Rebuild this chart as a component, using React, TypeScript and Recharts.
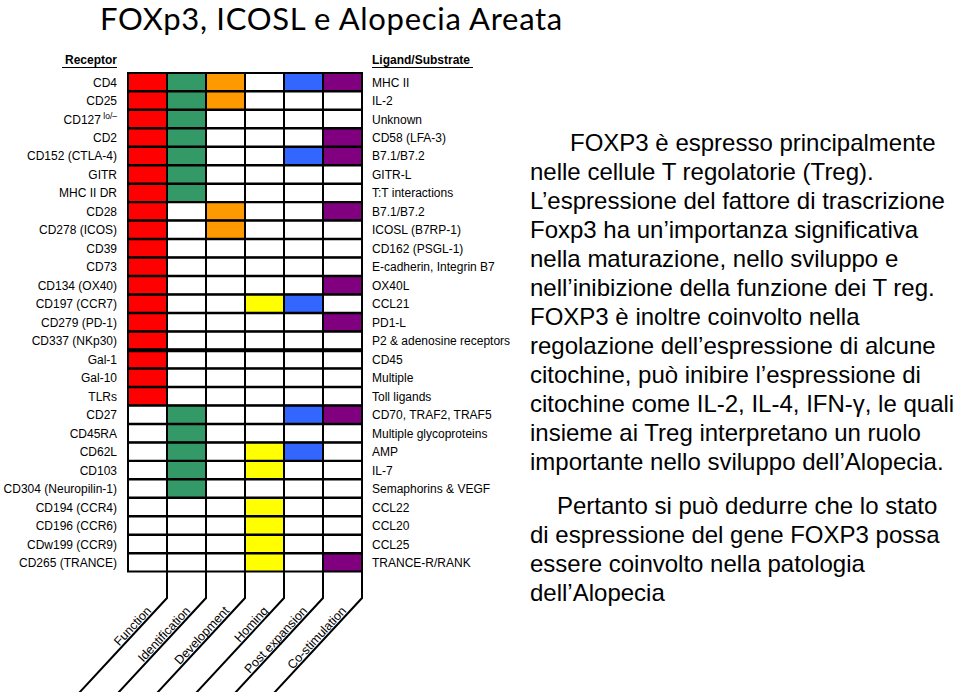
import { Bar, BarChart, Cell, ReferenceLine, XAxis, YAxis } from "recharts";

const receptors = [
  "CD4", "CD25", "CD127^lo/–", "CD2", "CD152 (CTLA-4)", "GITR", "MHC II DR", "CD28", "CD278 (ICOS)",
  "CD39", "CD73", "CD134 (OX40)", "CD197 (CCR7)", "CD279 (PD-1)", "CD337 (NKp30)", "Gal-1", "Gal-10",
  "TLRs", "CD27", "CD45RA", "CD62L", "CD103", "CD304 (Neuropilin-1)", "CD194 (CCR4)", "CD196 (CCR6)",
  "CDw199 (CCR9)", "CD265 (TRANCE)",
];

const ligands = [
  "MHC II", "IL-2", "Unknown", "CD58 (LFA-3)", "B7.1/B7.2", "GITR-L", "T:T interactions", "B7.1/B7.2",
  "ICOSL (B7RP-1)", "CD162 (PSGL-1)", "E-cadherin, Integrin B7", "OX40L", "CCL21", "PD1-L",
  "P2 & adenosine receptors", "CD45", "Multiple", "Toll ligands", "CD70, TRAF2, TRAF5",
  "Multiple glycoproteins", "AMP", "IL-7", "Semaphorins & VEGF", "CCL22", "CCL20", "CCL25", "TRANCE-R/RANK",
];

const categories = ["Function", "Identification", "Development", "Homing", "Post expansion", "Co-stimulation"];
const categoryColors = ["#ff0000", "#339966", "#ff9900", "#ffff00", "#3366ff", "#800080"];

// 1 = receptor belongs to the category (one entry per receptor row)
const functionMarks = [1, 1, 1, 1, 1, 1, 1, 1, 1, 1, 1, 1, 1, 1, 1, 1, 1, 1, 0, 0, 0, 0, 0, 0, 0, 0, 0];
const identificationMarks = [1, 1, 1, 1, 1, 1, 1, 0, 0, 0, 0, 0, 0, 0, 0, 0, 0, 0, 1, 1, 1, 1, 1, 0, 0, 0, 0];
const developmentMarks = [1, 1, 0, 0, 0, 0, 0, 1, 1, 0, 0, 0, 0, 0, 0, 0, 0, 0, 0, 0, 0, 0, 0, 0, 0, 0, 0];
const homingMarks = [0, 0, 0, 0, 0, 0, 0, 0, 0, 0, 0, 0, 1, 0, 0, 0, 0, 0, 0, 0, 1, 1, 0, 1, 1, 1, 1];
const postExpansionMarks = [1, 0, 0, 0, 1, 0, 0, 0, 0, 0, 0, 0, 1, 0, 0, 0, 0, 0, 1, 0, 1, 0, 0, 0, 0, 0, 0];
const coStimulationMarks = [1, 0, 0, 1, 1, 0, 0, 1, 0, 0, 0, 1, 0, 1, 0, 0, 0, 0, 1, 0, 0, 0, 0, 0, 0, 0, 1];

const marks = [functionMarks, identificationMarks, developmentMarks, homingMarks, postExpansionMarks, coStimulationMarks];

const paragraph1 = [
  "FOXP3 è espresso principalmente",
  "nelle cellule T regolatorie (Treg).",
  "L’espressione del fattore di trascrizione",
  "Foxp3 ha un’importanza significativa",
  "nella maturazione, nello sviluppo e",
  "nell’inibizione della funzione dei T reg.",
  "FOXP3 è inoltre coinvolto nella",
  "regolazione dell’espressione di alcune",
  "citochine, può inibire l’espressione di",
  "citochine come IL-2, IL-4, IFN-γ, le quali",
  "insieme ai Treg interpretano un ruolo",
  "importante nello sviluppo dell’Alopecia.",
];
const paragraph2 = [
  "Pertanto si può dedurre che lo stato",
  "di espressione del gene FOXP3 possa",
  "essere coinvolto nella patologia",
  "dell’Alopecia",
];

const data = receptors.map((receptor, i) => ({
  receptor,
  ligand: ligands[i],
  c0: 1, c1: 1, c2: 1, c3: 1, c4: 1, c5: 1,
}));

const SANS = "'Liberation Sans', Arial, sans-serif";

function ReceptorTick(props: any) {
  const { x, y, payload } = props;
  const [main, sup] = String(payload.value).split("^");
  return (
    <text x={x} y={y} dy="0.36em" textAnchor="end" fontSize={12} fontFamily={SANS} fill="#000">
      {main}
      {sup && (
        <tspan dy={-5} fontSize={8.5}>
          {" " + sup}
        </tspan>
      )}
    </text>
  );
}

function LigandTick(props: any) {
  const { x, y, payload } = props;
  return (
    <text x={x} y={y} dy="0.36em" textAnchor="start" fontSize={12} fontFamily={SANS} fill="#000">
      {payload.value}
    </text>
  );
}

function CategoryTick(props: any) {
  const { x, y, payload } = props;
  const label = categories[payload.value - 1];
  const drop = 26;
  const dx = -0.68;
  const dy = 0.734;
  const cy = y + drop;
  const s = 20;
  const ex = x + dx * s - 0.734 * 2;
  const ey = cy + dy * s - 0.68 * 2;
  return (
    <g>
      <path d={`M${x},${y}L${x},${cy}L${x + dx * 150},${cy + dy * 150}`} stroke="#000" strokeWidth={2} fill="none" />
      <text
        x={ex}
        y={ey}
        textAnchor="end"
        fontSize={12.5}
        fontFamily={SANS}
        fill="#000"
        transform={`rotate(-47.2, ${ex}, ${ey})`}
      >
        {label}
      </text>
    </g>
  );
}

export default function App() {
  return (
    <div style={{ position: "absolute", left: 0, top: 0, width: 960, height: 692, background: "#fff", overflow: "hidden" }}>
      <div
        style={{
          position: "absolute",
          left: 100,
          top: 0,
          fontFamily: "Lato, sans-serif",
          fontSize: 31,
          letterSpacing: 0.7,
          lineHeight: "37px",
          whiteSpace: "nowrap",
          color: "#000",
        }}
      >
        FOXp3, ICOSL e Alopecia Areata
      </div>

      <div
        style={{
          position: "absolute",
          right: 843,
          top: 53,
          fontFamily: SANS,
          fontSize: 12,
          fontWeight: "bold",
          lineHeight: "14px",
          borderBottom: "1px solid #000",
          paddingLeft: 3,
        }}
      >
        Receptor
      </div>
      <div
        style={{
          position: "absolute",
          left: 372,
          top: 53,
          fontFamily: SANS,
          fontSize: 12,
          fontWeight: "bold",
          lineHeight: "14px",
          borderBottom: "1px solid #000",
          paddingRight: 3,
        }}
      >
        Ligand/Substrate
      </div>

      <div style={{ position: "absolute", left: 0, top: 0 }}>
        <BarChart
          width={520}
          height={692}
          data={data}
          layout="vertical"
          barCategoryGap={0}
          margin={{ top: 73, right: 0, bottom: 0, left: 0 }}
        >
          <XAxis
            type="number"
            domain={[0, 6]}
            ticks={[1, 2, 3, 4, 5, 6]}
            axisLine={false}
            tickLine={false}
            tickSize={0}
            tickMargin={0}
            height={120}
            tick={<CategoryTick />}
            interval={0}
          />
          <YAxis
            yAxisId="left"
            type="category"
            dataKey="receptor"
            width={128}
            axisLine={false}
            tickLine={false}
            tickSize={0}
            tickMargin={11}
            interval={0}
            tick={<ReceptorTick />}
          />
          <YAxis
            yAxisId="right"
            orientation="right"
            type="category"
            dataKey="ligand"
            width={158}
            axisLine={false}
            tickLine={false}
            tickSize={0}
            tickMargin={10}
            interval={0}
            tick={<LigandTick />}
          />
          {categories.map((cat, j) => (
            <Bar
              key={cat}
              yAxisId="left"
              dataKey={`c${j}`}
              stackId="grid"
              stroke="#000"
              strokeWidth={2}
              isAnimationActive={false}
            >
              {data.map((row, i) => (
                <Cell key={row.receptor} fill={marks[j][i] ? categoryColors[j] : "#fff"} />
              ))}
            </Bar>
          ))}
          <ReferenceLine yAxisId="left" y="Gal-1" position="start" stroke="#000" strokeWidth={4} />
        </BarChart>
      </div>

      <div
        style={{
          position: "absolute",
          left: 530,
          top: 128,
          fontFamily: SANS,
          fontSize: 24,
          lineHeight: "29px",
          whiteSpace: "nowrap",
          color: "#000",
        }}
      >
        {paragraph1.map((line, i) => (
          <div key={i} style={{ paddingLeft: i === 0 ? 40 : 0 }}>
            {line}
          </div>
        ))}
        <div style={{ height: 15 }} />
        {paragraph2.map((line, i) => (
          <div key={i} style={{ paddingLeft: i === 0 ? 27 : 0 }}>
            {line}
          </div>
        ))}
      </div>
    </div>
  );
}
